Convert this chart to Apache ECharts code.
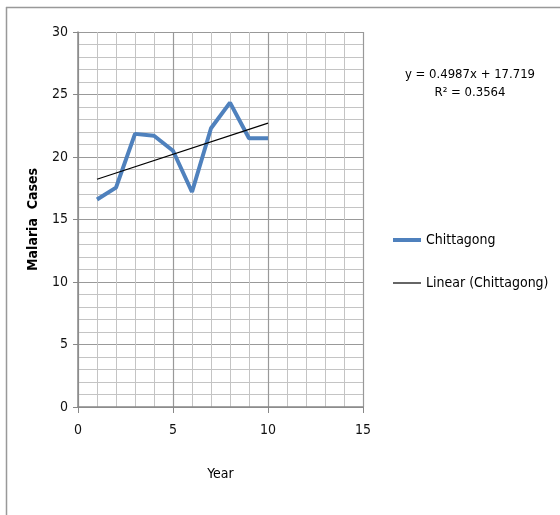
<!DOCTYPE html>
<html><head><meta charset="utf-8">
<script src="https://cdn.jsdelivr.net/npm/echarts@6/dist/echarts.min.js"></script>
<style>html,body{margin:0;padding:0;background:#fff;}#c{width:560px;height:515px;}</style>
</head><body><div id="c"></div>
<script>
var years = [1, 2, 3, 4, 5, 6, 7, 8, 9, 10];
var cases = [16.6, 17.55, 21.85, 21.7, 20.5, 17.2, 22.3, 24.35, 21.5, 21.5];
var trendX = [1, 10];
var trendY = [18.22, 22.71];
var seriesName = 'Chittagong';
var trendName = 'Linear (Chittagong)';
var equationText = 'y = 0.4987x + 17.719';
var r2Text = 'R² = 0.3564';

var FONT = '"DejaVu Sans Condensed","Liberation Sans Narrow",sans-serif';
var chart = echarts.init(document.getElementById('c'), null, {renderer: 'canvas'});
chart.setOption({
  animation: false,
  textStyle: {fontFamily: FONT},
  grid: {left: 78, right: 197, top: 32, bottom: 108, containLabel: false},
  xAxis: {
    type: 'value', min: 0, max: 15, interval: 5,
    name: 'Year', nameLocation: 'middle', nameGap: 60,
    nameTextStyle: {fontFamily: FONT, fontSize: 14, color: '#000'},
    axisLine: {onZero: false, lineStyle: {color: '#888', width: 1.5}},
    axisTick: {show: true, length: 6, inside: false, lineStyle: {color: '#888'}},
    axisLabel: {fontFamily: FONT, fontSize: 14, color: '#111', margin: 16},
    splitLine: {show: true, lineStyle: {color: '#999', width: 1.2}},
    minorTick: {show: true, splitNumber: 5, length: 0},
    minorSplitLine: {show: true, lineStyle: {color: '#c4c4c4', width: 1}}
  },
  yAxis: {
    type: 'value', min: 0, max: 30, interval: 5,
    name: 'Malaria  Cases', nameLocation: 'middle', nameGap: 38,
    nameTextStyle: {fontFamily: FONT, fontSize: 14, fontWeight: 'bold', color: '#000'},
    axisLine: {show: true, lineStyle: {color: '#888', width: 1.5}},
    axisTick: {show: true, length: 5, lineStyle: {color: '#888'}},
    axisLabel: {fontFamily: FONT, fontSize: 14, color: '#111', margin: 10},
    splitLine: {show: true, lineStyle: {color: '#999', width: 1.2}},
    minorTick: {show: true, splitNumber: 5, length: 0},
    minorSplitLine: {show: true, lineStyle: {color: '#c4c4c4', width: 1}}
  },
  graphic: [
    {type: 'text', style: {x: 470, y: 75, text: equationText, font: '13px ' + FONT, fill: '#000', align: 'center', verticalAlign: 'middle'}},
    {type: 'text', style: {x: 470, y: 93, text: r2Text, font: '13px ' + FONT, fill: '#000', align: 'center', verticalAlign: 'middle'}},
    {type: 'line', shape: {x1: 393, y1: 240, x2: 421, y2: 240}, style: {stroke: '#4f81bd', lineWidth: 4}},
    {type: 'text', style: {x: 426, y: 240, text: seriesName, font: '14px ' + FONT, fill: '#000', align: 'left', verticalAlign: 'middle'}},
    {type: 'line', shape: {x1: 393, y1: 283, x2: 421, y2: 283}, style: {stroke: '#000', lineWidth: 1.2}},
    {type: 'text', style: {x: 426, y: 283, text: trendName, font: '14px ' + FONT, fill: '#000', align: 'left', verticalAlign: 'middle'}},
    {type: 'line', shape: {x1: 6.5, y1: 7, x2: 6.5, y2: 515}, style: {stroke: '#999', lineWidth: 1.5}},
    {type: 'line', shape: {x1: 6, y1: 7.5, x2: 560, y2: 7.5}, style: {stroke: '#999', lineWidth: 1.5}}
  ],
  series: [
    {
      name: seriesName, type: 'line', data: years.map(function (x, i) { return [x, cases[i]]; }),
      symbol: 'none', lineStyle: {color: '#4f81bd', width: 4}, itemStyle: {color: '#4f81bd'}, z: 3
    },
    {
      name: trendName, type: 'line', data: trendX.map(function (x, i) { return [x, trendY[i]]; }),
      symbol: 'none', lineStyle: {color: '#000', width: 1.2}, itemStyle: {color: '#000'}, z: 4
    }
  ]
});
</script></body></html>
